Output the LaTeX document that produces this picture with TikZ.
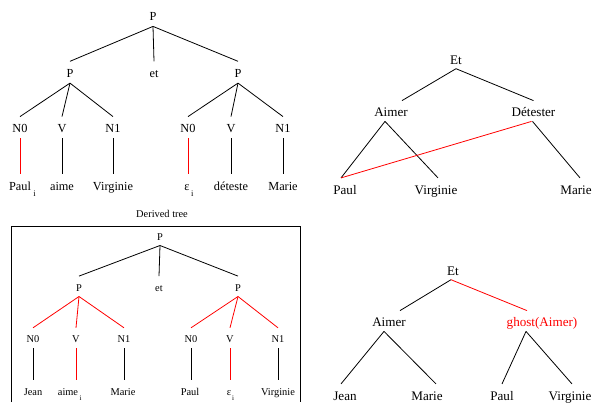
\documentclass[tikz,border=0pt]{standalone}
\usepackage{fontspec}
\setmainfont{Liberation Serif}
\newcommand{\lowi}[3]{\rlap{\hspace{#1}\raisebox{-#2}{\fontsize{#3}{#3}\selectfont i}}}
\begin{document}
\begin{tikzpicture}[x=1bp,y=-1bp,
  edge/.style={line width=0.8bp, black},
  rededge/.style={line width=0.8bp, red},
  tl/.style={font=\fontsize{12.3bp}{14bp}\selectfont, inner sep=0pt, outer sep=0pt, anchor=base, text height=15.7bp, text depth=6.1bp},
  bl/.style={font=\fontsize{10.4bp}{12bp}\selectfont, inner sep=0pt, outer sep=0pt, anchor=base, text height=14.9bp, text depth=5.5bp},
  rt/.style={font=\fontsize{13.1bp}{15bp}\selectfont, inner sep=0pt, outer sep=0pt, anchor=base, text height=16.1bp, text depth=4.7bp},
]
\useasboundingbox (0,0) rectangle (592,402);

% ---------- top-left tree ----------
\node[tl] (tP) at (153,20.3) {P};
\node[tl] (tPl) at (70,77) {P};
\node[tl] (tet) at (154,77) {et};
\node[tl] (tPr) at (238,77) {P};
\node[tl] (tN0l) at (20,132.3) {N0};
\node[tl] (tVl) at (62,132.3) {V};
\node[tl] (tN1l) at (113,132.3) {N1};
\node[tl] (tN0r) at (188,132.3) {N0};
\node[tl] (tVr) at (231,132.3) {V};
\node[tl] (tN1r) at (283,132.3) {N1};
\node[tl] (tPaul) at (20,190) {Paul\lowi{2.5bp}{6.5bp}{8.5bp}};
\node[tl] (taime) at (62,190) {aime};
\node[tl] (tVirg) at (113,190) {Virginie};
\node[tl] (teps) at (187,190) {ε\lowi{1.5bp}{6bp}{8.5bp}};
\node[tl] (tdet) at (231,190) {déteste};
\node[tl] (tMar) at (283,190) {Marie};

\draw[edge] (tP.south) -- (tPl.north);
\draw[edge] (tP.south) -- (tet.north);
\draw[edge] (tP.south) -- (tPr.north);
\draw[edge] (tPl.south) -- (tN0l.north);
\draw[edge] (tPl.south) -- (tVl.north);
\draw[edge] (tPl.south) -- (tN1l.north);
\draw[edge] (tPr.south) -- (tN0r.north);
\draw[edge] (tPr.south) -- (tVr.north);
\draw[edge] (tPr.south) -- (tN1r.north);
\draw[rededge] (tN0l.south) -- (tN0l.south |- tPaul.north);
\draw[edge] (tVl.south) -- (tVl.south |- taime.north);
\draw[edge] (tN1l.south) -- (tN1l.south |- tVirg.north);
\draw[rededge] (tN0r.south) -- (tN0r.south |- teps.north);
\draw[edge] (tVr.south) -- (tVr.south |- tdet.north);
\draw[edge] (tN1r.south) -- (tN1r.south |- tMar.north);

% ---------- top-right tree ----------
\node[rt] (rEt) at (456,64) {Et};
\node[rt] (rAi) at (391,116.7) {Aimer};
\node[rt] (rDe) at (533.5,116.7) {Détester};
\node[rt] (rPa) at (345,194) {Paul};
\node[rt] (rVi) at (436,194) {Virginie};
\node[rt] (rMa) at (576,194) {Marie};

\draw[edge] (rEt.south) -- ([xshift=11bp]rAi.north);
\draw[edge] (rEt.south) -- (rDe.north);
\draw[edge] ([xshift=-6bp]rAi.south) -- ([xshift=-4bp]rPa.north);
\draw[edge] ([xshift=-6bp]rAi.south) -- ([xshift=2bp]rVi.north);
\draw[edge] ([xshift=-1bp]rDe.south) -- ([xshift=4bp]rMa.north);
\draw[rededge] ([xshift=-2bp]rDe.south) -- ([xshift=-4bp]rPa.north);

% ---------- bottom-left derived tree ----------
\node[bl] (dtitle) at (162,217.3) {Derived tree};
\draw[line width=1bp] (11,402) -- (11,226) -- (300,226) -- (300,402);

\node[bl] (dP) at (160,240) {P};
\node[bl] (dPl) at (79,291) {P};
\node[bl] (det) at (159,291) {et};
\node[bl] (dPr) at (238,291) {P};
\node[bl] (dN0l) at (33,342.7) {N0};
\node[bl] (dVl) at (76,342.7) {V};
\node[bl] (dN1l) at (124,342.7) {N1};
\node[bl] (dN0r) at (191,342.7) {N0};
\node[bl] (dVr) at (230,342.7) {V};
\node[bl] (dN1r) at (278,342.7) {N1};
\node[bl] (dJean) at (33,395) {Jean};
\node[bl] (daime) at (68,395) {aime\lowi{1.5bp}{5.5bp}{7bp}};
\node[bl] (dMar) at (123,395) {Marie};
\node[bl] (dPaul) at (190,395) {Paul};
\node[bl] (deps) at (229,395) {ε\lowi{1bp}{5.5bp}{7bp}};
\node[bl] (dVirg) at (278,395) {Virginie};

\draw[edge] (dP.south) -- (dPl.north);
\draw[edge] (dP.south) -- (det.north);
\draw[edge] (dP.south) -- (dPr.north);
\draw[rededge] (dPl.south) -- (dN0l.north);
\draw[rededge] (dPl.south) -- (dVl.north);
\draw[rededge] (dPl.south) -- (dN1l.north);
\draw[rededge] (dPr.south) -- (dN0r.north);
\draw[rededge] (dPr.south) -- (dVr.north);
\draw[rededge] (dPr.south) -- (dN1r.north);
\draw[edge] (dN0l.south) -- (dN0l.south |- dJean.north);
\draw[rededge] (dVl.south) -- (dVl.south |- daime.north);
\draw[edge] (dN1l.south) -- (dN1l.south |- dMar.north);
\draw[edge] (dN0r.south) -- (dN0r.south |- dPaul.north);
\draw[rededge] (dVr.south) -- (dVr.south |- deps.north);
\draw[edge] (dN1r.south) -- (dN1r.south |- dVirg.north);

% ---------- bottom-right tree ----------
\node[rt] (bEt) at (453,275) {Et};
\node[rt] (bAi) at (389,326.7) {Aimer};
\node[rt, text=red] (bGh) at (542,326.7) {ghost(Aimer)};
\node[rt] (bJe) at (345,400) {Jean};
\node[rt] (bMa) at (427,400) {Marie};
\node[rt] (bPa) at (502,400) {Paul};
\node[rt] (bVi) at (570,400) {Virginie};

\draw[edge] ([xshift=-2bp]bEt.south) -- ([xshift=11bp]bAi.north);
\draw[rededge] ([xshift=-2bp]bEt.south) -- ([xshift=-15bp]bGh.north);
\draw[edge] ([xshift=-5bp]bAi.south) -- ([xshift=-4bp]bJe.north);
\draw[edge] ([xshift=-5bp]bAi.south) -- ([xshift=9bp]bMa.north);
\draw[edge] ([xshift=-16bp]bGh.south) -- (bPa.north);
\draw[edge] ([xshift=-16bp]bGh.south) -- ([xshift=2bp]bVi.north);
\end{tikzpicture}
\end{document}
